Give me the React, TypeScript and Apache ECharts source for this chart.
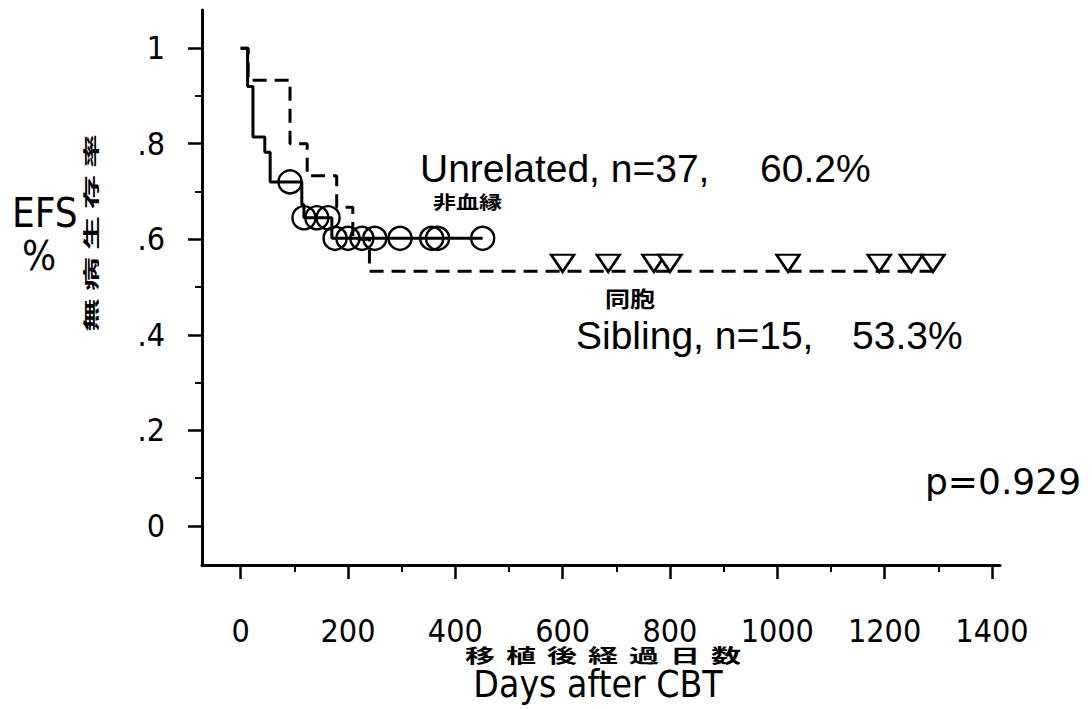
import React, { useEffect, useRef } from "react";
import * as echarts from "echarts";

// ---- data ----
const xTicks = [0, 200, 400, 600, 800, 1000, 1200, 1400];
const xMinorTicks = [100, 300, 500, 700, 900, 1100, 1300];
const yTicks = [0, 0.2, 0.4, 0.6, 0.8, 1];
const yTickLabels = ["0", ".2", ".4", ".6", ".8", "1"];
const yMinorTicks = [0.1, 0.3, 0.5, 0.7, 0.9];

// Unrelated (solid line, circles = censored)
const unrelatedTimes = [0, 13, 23, 45, 55, 114, 118, 170, 451];
const unrelatedSurv = [1, 0.92, 0.814, 0.782, 0.72, 0.672, 0.645, 0.602, 0.602];
const unrelatedCensorTimes = [92, 118, 142, 163, 176, 200, 226, 250, 297, 356, 367, 451];
const unrelatedCensorSurv = [0.72, 0.645, 0.645, 0.645, 0.602, 0.602, 0.602, 0.602, 0.602, 0.602, 0.602, 0.602];

// Sibling (dashed line, triangles = censored)
const siblingTimes = [0, 14, 92, 124, 179, 209, 240, 1290];
const siblingSurv = [1, 0.933, 0.8, 0.733, 0.667, 0.6, 0.533, 0.533];
const siblingCensorTimes = [600, 685, 770, 800, 1020, 1190, 1250, 1290];
const siblingCensorSurv = [0.533, 0.533, 0.533, 0.533, 0.533, 0.533, 0.533, 0.533];

// texts
const unrelatedLabel = "Unrelated, n=37,";
const unrelatedPct = "60.2%";
const unrelatedJa = "非血縁";
const siblingLabel = "Sibling, n=15,";
const siblingPct = "53.3%";
const siblingJa = "同胞";
const pValue = "p=0.929";
const yTitle1 = "EFS";
const yTitle2 = "%";
const yTitleJa = "無病生存率";
const xTitleJa = "移植後経過日数";
const xTitle = "Days after CBT";

const X_MIN = -72;
const X_MAX = 1415;
const Y_MIN = -0.082;
const Y_MAX = 1.08;

const NARROW = "'Liberation Sans Narrow', 'DejaVu Sans Condensed', 'Liberation Sans', sans-serif";
const SANS = "'Liberation Sans', Arial, sans-serif";
const DEJAVU = "'DejaVu Sans', sans-serif";
const CJK = "'Noto Sans CJK JP', sans-serif";

function zip(a: number[], b: number[]) {
  return a.map((v, i) => [v, b[i]]);
}

function buildGraphics() {
  const g: any[] = [];
  const txt = (text: string, x: number, y: number, size: number, family: string, extra: any = {}) => ({
    type: "text",
    x,
    y,
    scaleX: extra.scaleX ?? 1,
    scaleY: extra.scaleY ?? 1,
    style: {
      text,
      fontSize: size,
      fontFamily: family,
      fill: "#000",
      textAlign: extra.align || "left",
      textVerticalAlign: "middle",
      fontWeight: extra.weight || "normal",
    },
  });
  g.push(txt(unrelatedLabel, 420, 168, 39, SANS));
  g.push(txt(unrelatedPct, 760, 168, 39, SANS));
  g.push(txt(unrelatedJa, 433, 201, 23, CJK, { weight: "bold", scaleY: 0.8 }));
  g.push(txt(siblingJa, 605, 298, 25, CJK, { weight: "bold", scaleY: 0.85 }));
  g.push(txt(siblingLabel, 576, 335, 39, SANS));
  g.push(txt(siblingPct, 852, 335, 39, SANS));
  g.push(txt(pValue, 925, 481, 36, DEJAVU));
  g.push(txt(yTitle1, 12, 213, 40, NARROW));
  g.push(txt(yTitle2, 22, 256, 40, NARROW));
  // vertical Japanese y title (reads bottom to top)
  yTitleJa.split("").forEach((ch, i) => {
    g.push({
      type: "text",
      x: 90,
      y: 315 - i * 41,
      rotation: Math.PI / 2,
      scaleY: 0.48,
      style: {
        text: ch,
        fontSize: 34,
        fontFamily: CJK,
        fontWeight: "bold",
        fill: "#000",
        textAlign: "center",
        textVerticalAlign: "middle",
      },
    });
  });
  // x Japanese title
  xTitleJa.split("").forEach((ch, i) => {
    g.push({
      type: "text",
      x: 480 + i * 41,
      y: 655,
      scaleY: 0.65,
      style: {
        text: ch,
        fontSize: 30,
        fontFamily: CJK,
        fontWeight: "bold",
        fill: "#000",
        textAlign: "center",
        textVerticalAlign: "middle",
      },
    });
  });
  g.push(txt(xTitle, 598, 684, 37, NARROW, { align: "center" }));
  return g;
}

export default function App() {
  const ref = useRef<HTMLDivElement>(null);
  useEffect(() => {
    if (!ref.current) return;
    const chart = echarts.init(ref.current, null, { renderer: "svg" });
    const axisBase = {
      type: "value",
      splitLine: { show: false },
    };
    chart.setOption({
      animation: false,
      backgroundColor: "#fff",
      grid: { left: 202, top: 10, right: 92, bottom: 144, containLabel: false },
      xAxis: [
        {
          ...axisBase,
          min: X_MIN,
          max: X_MAX,
          position: "bottom",
          axisLine: { show: true, onZero: false, lineStyle: { color: "#000", width: 3 } },
          axisTick: { show: true, customValues: xTicks, length: 14, lineStyle: { color: "#000", width: 2.5 } },
          axisLabel: {
            show: true,
            customValues: xTicks,
            margin: 50,
            fontSize: 32,
            fontFamily: NARROW,
            color: "#000",
            formatter: (v: number) => String(v),
          },
        },
        {
          ...axisBase,
          min: X_MIN,
          max: X_MAX,
          position: "bottom",
          axisLine: { show: false, onZero: false },
          axisTick: { show: true, customValues: xMinorTicks, length: 7, lineStyle: { color: "#000", width: 2 } },
          axisLabel: { show: false },
        },
      ],
      yAxis: [
        {
          ...axisBase,
          min: Y_MIN,
          max: Y_MAX,
          position: "left",
          axisLine: { show: true, onZero: false, lineStyle: { color: "#000", width: 3 } },
          axisTick: { show: true, customValues: yTicks, length: 14, lineStyle: { color: "#000", width: 2.5 } },
          axisLabel: {
            show: true,
            customValues: yTicks,
            margin: 37,
            fontSize: 32,
            fontFamily: NARROW,
            color: "#000",
            formatter: (v: number) => yTickLabels[Math.round(v * 5)] ?? "",
          },
        },
        {
          ...axisBase,
          min: Y_MIN,
          max: Y_MAX,
          position: "left",
          axisLine: { show: false, onZero: false },
          axisTick: { show: true, customValues: yMinorTicks, length: 7, lineStyle: { color: "#000", width: 2 } },
          axisLabel: { show: false },
        },
      ],
      series: [
        {
          name: "Unrelated",
          type: "line",
          step: "end",
          data: zip(unrelatedTimes, unrelatedSurv),
          symbol: "none",
          lineStyle: { color: "#000", width: 3 },
          z: 3,
        },
        {
          name: "Sibling",
          type: "line",
          step: "end",
          data: zip(siblingTimes, siblingSurv),
          symbol: "none",
          lineStyle: { color: "#000", width: 3, type: [14, 8] },
          z: 3,
        },
        {
          name: "Unrelated censored",
          type: "scatter",
          data: zip(unrelatedCensorTimes, unrelatedCensorSurv),
          symbol: "circle",
          symbolSize: 23,
          itemStyle: { color: "rgba(0,0,0,0)", borderColor: "#000", borderWidth: 2.4, opacity: 1 },
          z: 4,
        },
        {
          name: "Sibling censored",
          type: "scatter",
          data: zip(siblingCensorTimes, siblingCensorSurv),
          symbol: "path://M0,0 L24,0 L12,18 Z",
          symbolSize: [23, 17],
          symbolOffset: [0, -8],
          itemStyle: { color: "#fff", borderColor: "#000", borderWidth: 2.5, opacity: 1 },
          z: 4,
        },
      ],
      graphic: buildGraphics(),
    });
    return () => chart.dispose();
  }, []);
  return (
    <div
      ref={ref}
      style={{ position: "absolute", left: 0, top: 0, width: 1092, height: 709, background: "#fff" }}
    />
  );
}
